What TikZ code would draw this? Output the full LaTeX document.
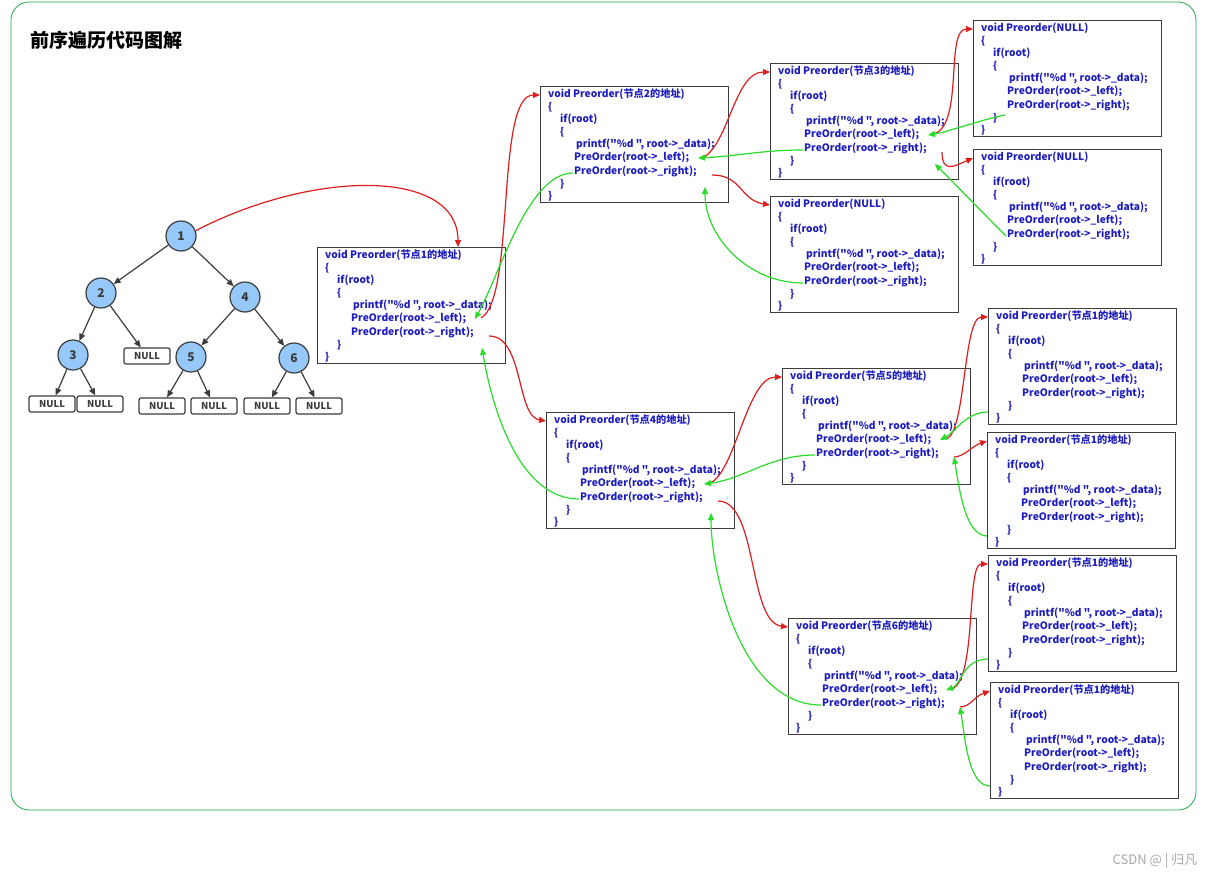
\documentclass[tikz,border=0pt]{standalone}
\usepackage{fontspec}
\setmainfont{Noto Sans CJK SC}
\newfontfamily\codefont{Noto Sans CJK SC}
\usetikzlibrary{arrows.meta}

\definecolor{codeblue}{RGB}{30,30,190}
\definecolor{callred}{RGB}{220,30,30}
\definecolor{retgreen}{RGB}{40,220,40}
\definecolor{framegreen}{RGB}{30,170,70}
\definecolor{nodeblue}{RGB}{150,200,250}
\definecolor{linegray}{RGB}{60,60,60}

\tikzset{
  codebox/.style={draw=linegray, line width=1.2pt, fill=white, anchor=north west,
    minimum width=188pt, minimum height=116pt, inner sep=0pt},
  codetext/.style={anchor=north west, align=left, inner sep=0pt, text=codeblue,
    font=\codefont\bfseries\fontsize{10.2}{12.5}\selectfont},
  tnode/.style={circle, draw=linegray, line width=1.2pt, fill=nodeblue, minimum size=30pt,
    inner sep=0pt, text=linegray, font=\bfseries\fontsize{12}{12}\selectfont},
  nullbox/.style={draw=linegray, line width=1.2pt, rounded corners=2pt, minimum width=46pt,
    minimum height=16pt, inner sep=0pt, text=linegray, font=\bfseries\fontsize{9.5}{9.5}\selectfont},
  tedge/.style={draw=linegray, line width=1.2pt, -{Triangle[length=7pt,width=6pt]}},
  call/.style={draw=callred, line width=1.2pt, -{Triangle[length=7pt,width=6pt]}, fill=none},
  ret/.style={draw=retgreen, line width=1.2pt, -{Triangle[length=7pt,width=6pt]}, fill=none}
}

\newcommand{\codelines}[1]{void Preorder(#1)\\
\{\\
\hspace*{12pt}if(root)\\
\hspace*{12pt}\{\\
\hspace*{28pt}printf("\%d ", root->\_data);\\
\hspace*{26pt}PreOrder(root->\_left);\\[2pt]
\hspace*{26pt}PreOrder(root->\_right);\\
\hspace*{12pt}\}\\
\}}

% one code box: name, top left corner, argument text
\newcommand{\codebox}[3]{%
  \node[codebox] (#1) at (#2) {};
  \node[codetext] (#1-txt) at ([shift={(8,3)}]#1.north west) {\codelines{#3}};
  \coordinate (#1-in) at ([shift={(0,9)}]#1.north west);
  \coordinate (#1-lo) at ([shift={(164,71)}]#1.north west);
  \coordinate (#1-lb) at ([shift={(158,72)}]#1.north west);
  \coordinate (#1-rs) at ([shift={(33,87)}]#1.north west);
  \coordinate (#1-ro) at ([shift={(172,89)}]#1.north west);
  \coordinate (#1-rb) at ([shift={(165,101)}]#1.north west);
  \coordinate (#1-bt) at ([shift={(32,95)}]#1.north west);
  \coordinate (#1-bs) at ([shift={(0,104)}]#1.north west);
}

\begin{document}
\begin{tikzpicture}[x=1pt, y=-1pt]
    \useasboundingbox (0,0) rectangle (1220,878);
    \draw[framegreen, line width=0.8pt, rounded corners=18pt] (11,2) rectangle (1196,810);

    \node[anchor=west, font=\bfseries\fontsize{19}{19}\selectfont] (title) at (27,40) {前序遍历代码图解};
    \node[text=gray!70, font=\fontsize{13}{13}\selectfont] (mark) at (1155,861) {CSDN @ | 归凡};

    % the tree
    \node[tnode] (n1) at (181,236) {1};
    \node[tnode] (n2) at (101,293) {2};
    \node[tnode] (n4) at (245,297) {4};
    \node[tnode] (n3) at (73,355) {3};
    \node[tnode] (n5) at (191,357) {5};
    \node[tnode] (n6) at (294,358) {6};
    \node[nullbox] (nl2) at (147,356) {NULL};
    \node[nullbox] (nl3a) at (52,404) {NULL};
    \node[nullbox] (nl3b) at (100,404) {NULL};
    \node[nullbox] (nl5a) at (162,406) {NULL};
    \node[nullbox] (nl5b) at (214,406) {NULL};
    \node[nullbox] (nl6a) at (267,406) {NULL};
    \node[nullbox] (nl6b) at (319,406) {NULL};
    \draw[tedge] (n1) -- (n2);
    \draw[tedge] (n1) -- (n4);
    \draw[tedge] (n2) -- (n3);
    \draw[tedge] (n2) -- (nl2);
    \draw[tedge] (n4) -- (n5);
    \draw[tedge] (n4) -- (n6);
    \draw[tedge] (n3) -- (nl3a);
    \draw[tedge] (n3) -- (nl3b);
    \draw[tedge] (n5) -- (nl5a);
    \draw[tedge] (n5) -- (nl5b);
    \draw[tedge] (n6) -- (nl6a);
    \draw[tedge] (n6) -- (nl6b);

    % the calls
    \codebox{b1}{317,247}{节点1的地址}
    \codebox{b2}{540,86}{节点2的地址}
    \codebox{b3}{770,63}{节点3的地址}
    \codebox{b4}{973,20}{NULL}
    \codebox{b5}{973,149}{NULL}
    \codebox{b6}{770,196}{NULL}
    \codebox{b7}{546,412}{节点4的地址}
    \codebox{b8}{782,368}{节点5的地址}
    \codebox{b9}{988,308}{节点1的地址}
    \codebox{b10}{987,432}{节点1的地址}
    \codebox{b11}{788,618}{节点6的地址}
    \codebox{b12}{988,555}{节点1的地址}
    \codebox{b13}{990,682}{节点1的地址}
    \coordinate (b1-top) at ([xshift=141pt]b1.north west);

    \draw[call] (n1.20) .. controls +(120,-62) and +(0,-78) .. (b1-top);
    \draw[call] (b1-lo) .. controls +(35,-20) and +(-45,0) .. (b2-in);
    \draw[ret] (b2-rs) .. controls +(-45,0) and +(25,-45) .. (b1-lb);
    \draw[call] (b1-ro) .. controls +(35,0) and +(-30,-5) .. (b7-in);
    \draw[ret] (b7-rs) .. controls +(-60,0) and +(10,60) .. (b1-rb);

    \draw[call] (b2-lo) .. controls +(25,-15) and +(-35,0) .. (b3-in);
    \draw[ret] (b3-rs) .. controls +(-40,0) and +(40,-2) .. (b2-lb);
    \draw[call] (b2-ro) .. controls +(30,0) and +(-30,-5) .. (b6-in);
    \draw[ret] (b6-rs) .. controls +(-55,0) and +(0,50) .. (b2-rb);

    \draw[call] (b3-lo) .. controls +(30,-10) and +(-28,0) .. (b4-in);
    \draw[ret] (b4-bt) .. controls +(-25,5) and +(20,-3) .. (b3-lb);
    \draw[call] (b3-ro) .. controls +(0,22) and +(-18,8) .. (b5-in);
    \draw[ret] (b5-rs) .. controls +(-30,-30) and +(25,25) .. (b3-rb);

    \draw[call] (b7-lo) .. controls +(25,-10) and +(-35,0) .. (b8-in);
    \draw[ret] (b8-rs) .. controls +(-45,0) and +(40,-5) .. (b7-lb);
    \draw[call] (b7-ro) .. controls +(40,0) and +(-40,-5) .. (b11-in);
    \draw[ret] (b11-rs) .. controls +(-80,0) and +(0,60) .. (b7-rb);

    \draw[call] (b8-lo) .. controls +(20,-5) and +(-25,0) .. (b9-in);
    \draw[ret] (b9-bs) .. controls +(-22,0) and +(15,-8) .. (b8-lb);
    \draw[call] (b8-ro) .. controls +(10,0) and +(-15,5) .. (b10-in);
    \draw[ret] (b10-bs) .. controls +(-22,0) and +(5,30) .. (b8-ro);

    \draw[call] (b11-lo) .. controls +(25,-10) and +(-22,0) .. (b12-in);
    \draw[ret] (b12-bs) .. controls +(-25,0) and +(15,-5) .. (b11-lb);
    \draw[call] (b11-ro) .. controls +(10,0) and +(-15,5) .. (b13-in);
    \draw[ret] (b13-bs) .. controls +(-22,0) and +(5,30) .. (b11-ro);
\end{tikzpicture}
\end{document}
